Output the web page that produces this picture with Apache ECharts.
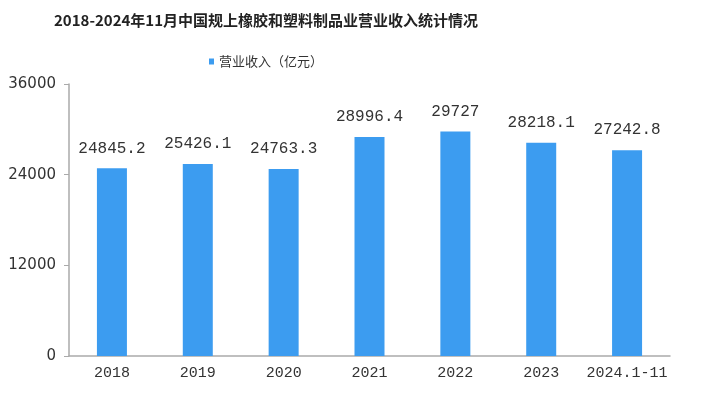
<!DOCTYPE html>
<html><head><meta charset="utf-8">
<script src="https://cdn.jsdelivr.net/npm/echarts@6/dist/echarts.min.js"></script>
<style>html,body{margin:0;padding:0;background:#fff}#c{width:711px;height:396px}</style>
</head><body><div id="c"></div>
<script>
const categories = ['2018','2019','2020','2021','2022','2023','2024.1-11'];
const revenue = [24845.2, 25426.1, 24763.3, 28996.4, 29727, 28218.1, 27242.8];
const seriesName = '营业收入（亿元）';
const titleText = '2018-2024年11月中国规上橡胶和塑料制品业营业收入统计情况';
const yTicks = {min: 0, max: 36000, interval: 12000};

const chart = echarts.init(document.getElementById('c'));
chart.setOption({
  animation: false,
  title: {
    text: titleText, left: 49, top: 8,
    textStyle: {fontSize: 15, fontWeight: 'bold', color: '#222', fontFamily: '"Noto Sans CJK SC", sans-serif'}
  },
  legend: {
    data: [seriesName], left: 204, top: 50, itemWidth: 5, itemHeight: 6, itemGap: 4,
    icon: 'rect',
    textStyle: {fontSize: 13, color: '#333', fontFamily: '"Noto Sans CJK SC", sans-serif'}
  },
  grid: {left: 69, right: 41, top: 84, bottom: 40},
  xAxis: {
    type: 'category', data: categories,
    axisLine: {lineStyle: {color: '#aaa', width: 1.5}},
    axisTick: {length: 3, lineStyle: {color: '#aaa'}},
    axisLabel: {interval: 0, color: '#333', fontSize: 15, margin: 10, fontFamily: '"Liberation Mono", monospace'}
  },
  yAxis: {
    type: 'value', min: yTicks.min, max: yTicks.max, interval: yTicks.interval,
    axisLine: {show: true, lineStyle: {color: '#aaa', width: 1.5}},
    axisTick: {show: true, length: 5, lineStyle: {color: '#aaa'}},
    splitLine: {show: false},
    axisLabel: {color: '#333', fontSize: 15, margin: 13, fontFamily: '"DejaVu Sans", sans-serif',
      formatter: v => String(v)}
  },
  series: [{
    name: seriesName, type: 'bar', data: revenue, barWidth: 30,
    itemStyle: {color: '#3c9cf0'},
    label: {show: true, position: 'top', distance: 12, color: '#333', fontSize: 16,
      fontFamily: '"Liberation Mono", monospace'}
  }]
});
</script></body></html>
